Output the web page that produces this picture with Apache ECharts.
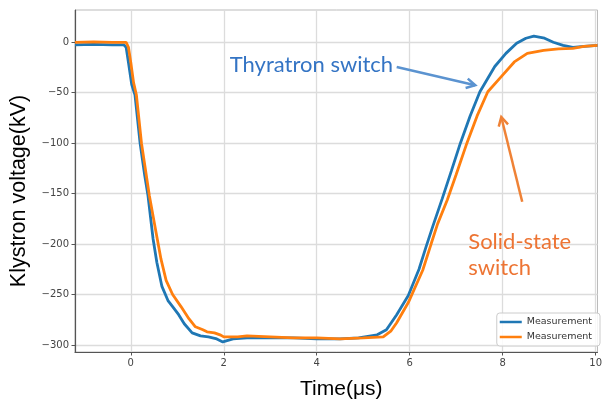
<!DOCTYPE html>
<html>
<head>
<meta charset="utf-8">
<script src="https://cdn.jsdelivr.net/npm/echarts@6/dist/echarts.min.js"></script>
<style>
  html, body { margin: 0; padding: 0; background: #fff; }
  #chart { width: 605px; height: 405px; }
</style>
</head>
<body>
<div id="chart"></div>
<script>
// thyratron switch measurement (blue)
var thyTime = [-1.2, -0.8, -0.4, -0.15, -0.1, -0.05, 0.02, 0.09, 0.2, 0.3, 0.37, 0.48, 0.56, 0.67, 0.8, 0.9, 1.03, 1.15, 1.32, 1.5, 1.67, 1.85, 1.98, 2.2, 2.5, 3.0, 3.5, 4.0, 4.5, 4.9, 5.3, 5.5, 5.72, 5.97, 6.2, 6.35, 6.5, 6.7, 6.9, 7.09, 7.3, 7.51, 7.83, 8.07, 8.3, 8.5, 8.67, 8.9, 9.09, 9.3, 9.51, 9.75, 10.04];
var thyVolt = [-2.5, -2, -2.5, -2.5, -5, -20, -42, -52, -100, -132, -152, -195, -218, -242, -256, -262, -270, -279, -288, -291, -292, -294, -297, -294, -293, -293, -293, -294, -294, -293, -290, -285, -270, -251, -225, -203, -182, -155, -127, -100, -73, -49, -24, -11, -1, 4, 6, 4, 0, -3, -5, -4, -3];

// solid-state switch measurement (orange)
var ssTime = [-1.2, -0.8, -0.4, -0.1, -0.05, 0.0, 0.06, 0.12, 0.23, 0.4, 0.55, 0.65, 0.76, 0.9, 1.08, 1.25, 1.39, 1.55, 1.64, 1.8, 1.92, 2.0, 2.3, 2.5, 3.0, 3.5, 4.0, 4.5, 5.0, 5.43, 5.6, 5.72, 5.97, 6.28, 6.46, 6.6, 6.81, 7.0, 7.23, 7.45, 7.68, 7.97, 8.25, 8.53, 8.88, 9.2, 9.51, 9.75, 10.04];
var ssVolt = [0, 0.5, 0, 0, -5, -20, -40, -52, -100, -152, -190, -215, -236, -250, -262, -274, -282, -285, -287, -288, -290, -292, -292, -291, -292, -293, -293, -294, -293, -292, -286, -278, -258, -226, -200, -180, -156, -131, -100, -73, -49, -34, -19.5, -11, -8, -6.5, -6, -4, -3];

var xTicks = [0, 2, 4, 6, 8, 10];
var yTicks = [-300, -250, -200, -150, -100, -50, 0];
var seriesNames = ['Measurement', 'Measurement '];

function pairs(xs, ys) {
  var out = [];
  for (var i = 0; i < xs.length; i++) out.push([xs[i], ys[i]]);
  return out;
}

var chart = echarts.init(document.getElementById('chart'));
var tickFont = { fontFamily: 'DejaVu Sans', fontSize: 10, color: '#444' };

var option = {
  animation: false,
  grid: { left: 73, right: 1, top: 10, bottom: 53, show: true, borderColor: '#bbb', borderWidth: 1, backgroundColor: '#fff' },
  legend: {
    orient: 'vertical', right: 5, top: 313,
    data: seriesNames,
    icon: 'rect', itemWidth: 22, itemHeight: 2.5, itemGap: 5,
    padding: [4, 5, 4, 3],
    backgroundColor: 'rgba(255,255,255,0.85)', borderColor: '#ccc', borderWidth: 1, borderRadius: 3,
    textStyle: { fontFamily: 'DejaVu Sans', fontSize: 9.5, color: '#333' }
  },
  xAxis: {
    type: 'value', min: -1.2, max: 10.04,
    name: 'Time(μs)', nameLocation: 'middle', nameGap: 27,
    nameTextStyle: { fontFamily: 'Liberation Sans', fontSize: 21, color: '#000', padding: [0, 0, 0, 10] },
    axisLine: { onZero: false, lineStyle: { color: '#555', width: 1.2 } },
    axisTick: { show: true, length: 3.5, customValues: xTicks, lineStyle: { color: '#555' } },
    axisLabel: Object.assign({ customValues: xTicks, margin: 6 }, tickFont),
    splitLine: { show: true, lineStyle: { color: '#dcdcdc', width: 1.3 } }
  },
  yAxis: {
    type: 'value', min: -307, max: 32,
    name: 'Klystron voltage(kV)', nameLocation: 'middle', nameGap: 45,
    nameTextStyle: { fontFamily: 'Liberation Sans', fontSize: 21.5, color: '#000', padding: [0, 20, 0, 0] },
    axisLine: { show: true, onZero: false, lineStyle: { color: '#555', width: 1.2 } },
    axisTick: { show: true, length: 3.5, customValues: yTicks, lineStyle: { color: '#555' } },
    axisLabel: Object.assign({ customValues: yTicks, margin: 6,
      formatter: function (v) { return String(v).replace('-', '\u2212'); } }, tickFont),
    splitLine: { show: true, lineStyle: { color: '#dcdcdc', width: 1.3 } }
  },
  series: [
    { name: seriesNames[0], type: 'line', data: pairs(thyTime, thyVolt), showSymbol: false,
      color: '#1f77b4', lineStyle: { width: 2.8, color: '#1f77b4' }, z: 3 },
    { name: seriesNames[1], type: 'line', data: pairs(ssTime, ssVolt), showSymbol: false,
      color: '#ff7f0e', lineStyle: { width: 2.8, color: '#ff7f0e' }, z: 4 }
  ]
};
chart.setOption(option);

// annotations, anchored in data coordinates
function px(t, v) { return chart.convertToPixel({ gridIndex: 0 }, [t, v]); }
function arrow(from, to, color) {
  var a = px(from[0], from[1]), b = px(to[0], to[1]);
  var ang = Math.atan2(b[1] - a[1], b[0] - a[0]);
  var L = 10, s = 0.5;
  var h1 = [b[0] - L * Math.cos(ang - s), b[1] - L * Math.sin(ang - s)];
  var h2 = [b[0] - L * Math.cos(ang + s), b[1] - L * Math.sin(ang + s)];
  return [
    { type: 'line', shape: { x1: a[0], y1: a[1], x2: b[0], y2: b[1] }, style: { stroke: color, lineWidth: 2.5 }, z: 10 },
    { type: 'polyline', shape: { points: [h1, b, h2] }, style: { stroke: color, lineWidth: 2.5, fill: null }, z: 10 }
  ];
}
var thyLabel = px(2.13, -22.8);
var ssLabel1 = px(7.26, -197.7);
var ssLabel2 = px(7.26, -223.8);
var labelFont = { fontFamily: 'Lato', fontSize: 22 };
chart.setOption({
  graphic: [
    { type: 'text', x: thyLabel[0], y: thyLabel[1], z: 10,
      style: Object.assign({ text: 'Thyratron switch', fill: '#3474c4', verticalAlign: 'middle' }, labelFont) },
    { type: 'text', x: ssLabel1[0], y: ssLabel1[1], z: 10,
      style: Object.assign({ text: 'Solid-state', fill: '#ed7433', verticalAlign: 'middle' }, labelFont) },
    { type: 'text', x: ssLabel2[0], y: ssLabel2[1], z: 10,
      style: Object.assign({ text: 'switch', fill: '#ed7433', verticalAlign: 'middle' }, labelFont) }
  ].concat(arrow([5.72, -24.5], [7.41, -42.6], '#5b93d0'))
   .concat(arrow([8.42, -158], [7.97, -74], '#ef8236'))
});
</script>
</body>
</html>
